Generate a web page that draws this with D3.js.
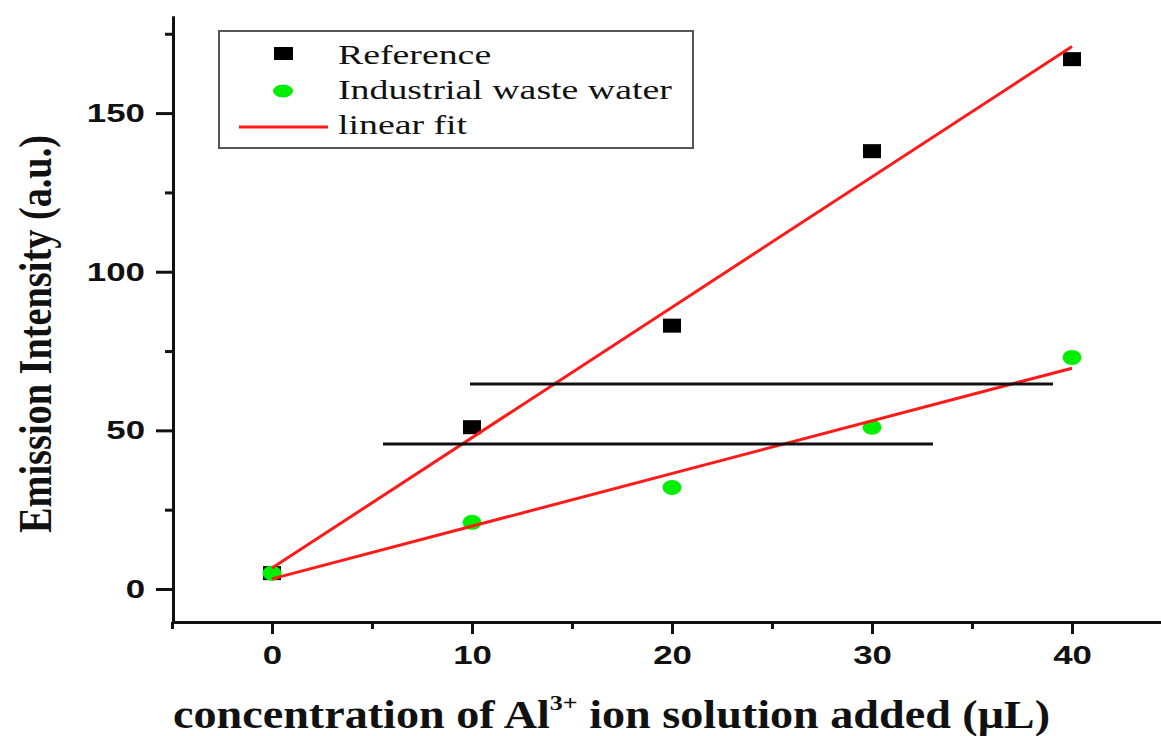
<!DOCTYPE html>
<html>
<head>
<meta charset="utf-8">
<script src="https://cdn.jsdelivr.net/npm/d3@7"></script>
<style>
  html, body { margin: 0; padding: 0; background: #fff; }
  svg { display: block; }
</style>
</head>
<body>
<div id="chart"></div>
<script>
// data
const conc        = [0, 10, 20, 30, 40];          // µL of Al3+ added
const refValues   = [5, 51, 83, 138, 167];        // Reference
const wasteValues = [5, 21, 32, 51, 73];          // Industrial waste water

// linear fit ends (x = 0 and x = 40)
const fitX        = [0, 40];
const fitRef      = [6.6, 171];
const fitWaste    = [3.2, 69.6];

// two plain black horizontal lines in the plot
const hLineX1 = [9.9, 5.55];
const hLineX2 = [39.05, 33.05];
const hLineY  = [64.6, 45.7];

const xMajor = [0, 10, 20, 30, 40];
const xMinor = [-5, 5, 15, 25, 35];
const yMajor = [0, 50, 100, 150];
const yMinor = [25, 75, 125, 175];

const legendLabels = ['Reference', 'Industrial waste water', 'linear fit'];

const W = 1161, H = 736;
const RED = '#ff1a1a', GREEN = '#00ee00', INK = '#111';

const svg = d3.select('#chart').append('svg')
    .attr('width', W).attr('height', H);

const x = d3.scaleLinear().domain([-4.95, 44.45]).range([173, 1161]);
const y = d3.scaleLinear().domain([-10.4, 180.6]).range([622, 16]);

// stretch text horizontally (the original figure is widened)
function stretch(sel, k) {
    sel.each(function () {
        const w = this.getComputedTextLength();
        d3.select(this).attr('textLength', w * k).attr('lengthAdjust', 'spacingAndGlyphs');
    });
}

function styleAxis(g) {
    g.select('.domain').attr('stroke', INK).attr('stroke-width', 3);
    g.selectAll('.tick line').attr('stroke', INK).attr('stroke-width', 3);
}

// minor ticks first, then major with labels
svg.append('g')
    .attr('transform', 'translate(0,622)')
    .call(d3.axisBottom(x).tickValues(xMinor).tickSize(7).tickSizeOuter(0).tickFormat(''))
    .call(styleAxis);
const xAx = svg.append('g')
    .attr('transform', 'translate(0,622)')
    .call(d3.axisBottom(x).tickValues(xMajor).tickSize(12).tickSizeOuter(0).tickPadding(12).tickFormat(d3.format('d')))
    .call(styleAxis);
xAx.selectAll('text')
    .attr('fill', INK).style('font', 'bold 26px "Liberation Sans", Arial, sans-serif');
stretch(xAx.selectAll('text'), 1.34);

svg.append('g')
    .attr('transform', 'translate(173,0)')
    .call(d3.axisLeft(y).tickValues(yMinor).tickSize(8).tickSizeOuter(0).tickFormat(''))
    .call(styleAxis);
const yAx = svg.append('g')
    .attr('transform', 'translate(173,0)')
    .call(d3.axisLeft(y).tickValues(yMajor).tickSize(17).tickSizeOuter(0).tickPadding(11).tickFormat(d3.format('d')))
    .call(styleAxis);
yAx.selectAll('text')
    .attr('fill', INK).style('font', 'bold 26px "Liberation Sans", Arial, sans-serif');
stretch(yAx.selectAll('text'), 1.34);

// markers
svg.append('g').selectAll('rect')
    .data(conc.map((c, i) => ({ c, v: refValues[i] })))
    .join('rect')
    .attr('x', d => x(d.c) - 9).attr('y', d => y(d.v) - 7)
    .attr('width', 18).attr('height', 14)
    .attr('fill', '#000');

svg.append('g').selectAll('ellipse')
    .data(conc.map((c, i) => ({ c, v: wasteValues[i] })))
    .join('ellipse')
    .attr('cx', d => x(d.c)).attr('cy', d => y(d.v))
    .attr('rx', 9.5).attr('ry', 7.5)
    .attr('fill', GREEN);

// linear fits
const line = d3.line().x(d => x(d[0])).y(d => y(d[1]));
[fitRef, fitWaste].forEach(f => {
    svg.append('path')
        .datum(fitX.map((c, i) => [c, f[i]]))
        .attr('fill', 'none').attr('stroke', RED).attr('stroke-width', 3)
        .attr('d', line);
});

// horizontal black lines
svg.append('g').selectAll('line')
    .data(hLineY.map((v, i) => ({ x1: hLineX1[i], x2: hLineX2[i], v })))
    .join('line')
    .attr('x1', d => x(d.x1)).attr('x2', d => x(d.x2))
    .attr('y1', d => y(d.v)).attr('y2', d => y(d.v))
    .attr('stroke', INK).attr('stroke-width', 3);

// legend
const lg = svg.append('g');
lg.append('rect')
    .attr('x', 219).attr('y', 31).attr('width', 474).attr('height', 117)
    .attr('fill', '#fff').attr('stroke', '#555').attr('stroke-width', 2);
lg.append('rect').attr('x', 274).attr('y', 47).attr('width', 19).attr('height', 13).attr('fill', '#000');
lg.append('ellipse').attr('cx', 283).attr('cy', 91).attr('rx', 10).attr('ry', 6.5).attr('fill', GREEN);
lg.append('line').attr('x1', 239).attr('x2', 328).attr('y1', 127).attr('y2', 127)
    .attr('stroke', RED).attr('stroke-width', 3);
const legendY = [64, 99, 134];
const lgText = lg.selectAll('text.lab')
    .data(legendLabels)
    .join('text')
    .attr('class', 'lab')
    .attr('x', 338).attr('y', (d, i) => legendY[i])
    .attr('fill', INK)
    .style('font', '27px "Liberation Serif", "Times New Roman", serif')
    .text(d => d);
stretch(lgText, 1.4);

// axis titles
svg.append('text')
    .attr('transform', 'translate(51,334) rotate(-90)')
    .attr('text-anchor', 'middle')
    .attr('textLength', 398).attr('lengthAdjust', 'spacingAndGlyphs')
    .attr('fill', INK)
    .style('font', 'bold 47px "Liberation Serif", "Times New Roman", serif')
    .text('Emission Intensity (a.u.)');

const xt = svg.append('text')
    .attr('x', 173).attr('y', 728)
    .attr('textLength', 877).attr('lengthAdjust', 'spacingAndGlyphs')
    .attr('fill', INK)
    .style('font', 'bold 39px "Liberation Serif", "Times New Roman", serif');
xt.append('tspan').text('concentration of Al');
xt.append('tspan').attr('dy', -18).style('font-size', '22px').text('3+');
xt.append('tspan').attr('dy', 18).text(' ion solution added (\u03bcL)');
</script>
</body>
</html>
